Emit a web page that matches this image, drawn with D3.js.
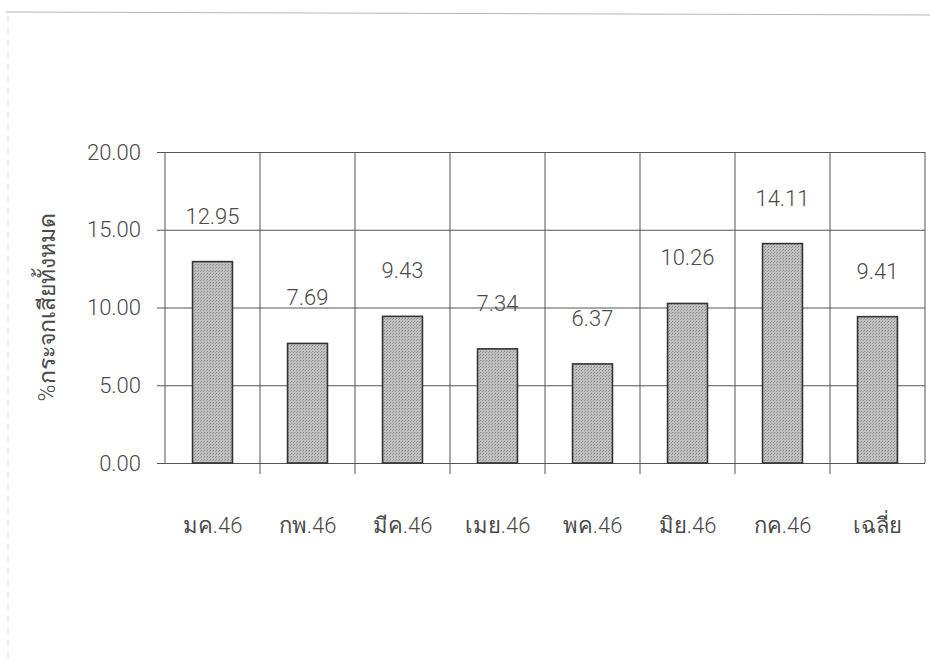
<!DOCTYPE html>
<html><head><meta charset="utf-8">
<script src="https://cdn.jsdelivr.net/npm/d3@7"></script>
<style>
body{margin:0;background:#fff;}
svg{display:block;}
text{font-family:"Roboto","Liberation Sans","Noto Sans",Arial,sans-serif;font-weight:300;fill:#4a4a4a;}
</style></head>
<body>
<svg id="chart" width="930" height="663"></svg>
<script>
const categories = ["มค.46","กพ.46","มีค.46","เมย.46","พค.46","มิย.46","กค.46","เฉลี่ย"];
const values = [12.95, 7.69, 9.43, 7.34, 6.37, 10.26, 14.11, 9.41];
const yTicks = [0, 5, 10, 15, 20];
const yTitle = "%กระจกเสียทั้งหมด";

const svg = d3.select("#chart");
const m = {left:165, right:925, top:152, bottom:463};

// scanned page frame
svg.append("line").attr("x1",6).attr("x2",930).attr("y1",12).attr("y2",15)
  .attr("stroke","#b5b5b5").attr("stroke-width",1);
svg.append("line").attr("x1",8).attr("x2",8).attr("y1",16).attr("y2",663)
  .attr("stroke","#dcdcdc").attr("stroke-width",1).attr("stroke-dasharray","6,6");

const x = d3.scaleBand().domain(categories).range([m.left, m.right]).paddingInner(0).paddingOuter(0);
const y = d3.scaleLinear().domain([0,20]).range([m.bottom, m.top]);

const defs = svg.append("defs");
const pat = defs.append("pattern").attr("id","stip").attr("width",3).attr("height",3).attr("patternUnits","userSpaceOnUse");
pat.append("rect").attr("width",3).attr("height",3).attr("fill","#c0c0c0");
pat.append("rect").attr("x",0).attr("y",0).attr("width",1).attr("height",1).attr("fill","#8a8a8a");
pat.append("rect").attr("x",2).attr("y",1).attr("width",1).attr("height",1).attr("fill","#9a9a9a");

// horizontal gridlines + y axis
const yAxis = d3.axisLeft(y).tickValues(yTicks).tickFormat(d3.format(".2f"))
  .tickSizeInner(-(m.right - m.left) - 8).tickSizeOuter(0).tickPadding(16);
const gy = svg.append("g").attr("transform",`translate(${m.left - 8},0)`).call(yAxis);
gy.select(".domain").remove();
gy.selectAll(".tick line").attr("stroke","#555").attr("stroke-width",1);
gy.selectAll(".tick text").attr("font-size",22);

// vertical gridlines (category boundaries)
const bounds = categories.map(c => x(c)).concat([m.right]);
svg.append("g").selectAll("line").data(bounds).join("line")
  .attr("x1",d=>d).attr("x2",d=>d).attr("y1",m.top).attr("y2",(d,i)=> (i===0||i===bounds.length-1)? m.bottom : m.bottom+11)
  .attr("stroke","#555").attr("stroke-width",1);

// x axis labels
const xAxis = d3.axisBottom(x).tickSize(0).tickPadding(54);
const gx = svg.append("g").attr("transform",`translate(0,${m.bottom})`).call(xAxis);
gx.select(".domain").remove();
gx.selectAll(".tick text").attr("font-size",22).attr("font-weight",200).attr("fill","#555");

// bars
const bw = x.bandwidth()*0.42;
svg.append("g").selectAll("rect").data(values).join("rect")
  .attr("x",(d,i)=> x(categories[i]) + x.bandwidth()/2 - bw/2)
  .attr("y",d=>y(d)).attr("width",bw).attr("height",d=>y(0)-y(d))
  .attr("fill","url(#stip)").attr("stroke","#333").attr("stroke-width",1.6);

// value labels
svg.append("g").selectAll("text").data(values).join("text")
  .attr("x",(d,i)=> x(categories[i]) + x.bandwidth()/2)
  .attr("y",d=>y(d) - 38)
  .attr("text-anchor","middle").attr("font-size",22)
  .text(d=>d3.format(".2f")(d));

// y title
svg.append("text").attr("transform",`translate(55,${(m.top+m.bottom)/2}) rotate(-90)`)
  .attr("text-anchor","middle").attr("font-size",23).attr("font-weight",200).attr("fill","#555").text(yTitle);
</script>
</body></html>
